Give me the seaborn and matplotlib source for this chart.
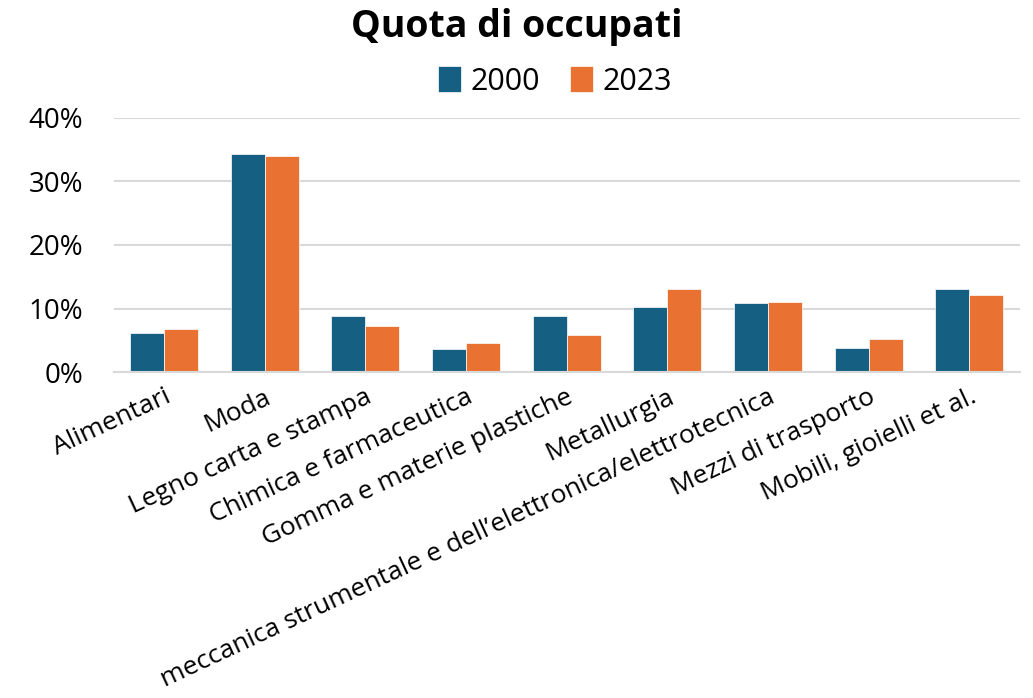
import numpy as np
import pandas as pd
import matplotlib.pyplot as plt
import seaborn as sns
from matplotlib.ticker import PercentFormatter

categories = [
    "Alimentari",
    "Moda",
    "Legno carta e stampa",
    "Chimica e farmaceutica",
    "Gomma e materie plastiche",
    "Metallurgia",
    "meccanica strumentale e dell\u2019elettronica/elettrotecnica",
    "Mezzi di trasporto",
    "Mobili, gioielli et al.",
]
share_2000 = [6.2, 34.4, 8.9, 3.7, 8.8, 10.2, 10.8, 3.8, 13.0]
share_2023 = [6.8, 34.0, 7.2, 4.6, 5.8, 13.0, 11.0, 5.2, 12.1]
years = ["2000", "2023"]
colors = ["#156082", "#E97132"]

df = pd.DataFrame({
    "settore": categories * 2,
    "anno": [years[0]] * len(categories) + [years[1]] * len(categories),
    "quota": share_2000 + share_2023,
})

sns.set_style("white")
plt.rcParams["font.family"] = ["Open Sans", "DejaVu Sans"]
plt.rcParams["text.color"] = "black"
plt.rcParams["xtick.color"] = "black"
plt.rcParams["ytick.color"] = "black"

fig = plt.figure(figsize=(10.33, 6.98), dpi=100)
ax = fig.add_axes([0.110, 0.467, 0.877, 0.364])

sns.barplot(data=df, x="settore", y="quota", hue="anno", palette=colors,
            saturation=1, width=0.675, edgecolor="white", linewidth=0.5,
            ax=ax, legend=True)

ax.set_ylim(0, 40)
ax.set_xlim(-0.5, len(categories) - 0.5)
ax.set_yticks([0, 10, 20, 30, 40])
ax.yaxis.set_major_formatter(PercentFormatter(decimals=0))
ax.grid(axis="y", color="#d9d9d9", linewidth=1.5)
ax.set_axisbelow(True)
for s in ["left", "right", "top"]:
    ax.spines[s].set_visible(False)
ax.spines["bottom"].set_color("#d9d9d9")
ax.spines["bottom"].set_linewidth(1.5)

ax.set_xticks(np.arange(-0.5, len(categories), 1.0), minor=True)
ax.tick_params(axis="x", which="minor", length=9, width=1.5, color="#d9d9d9")
ax.tick_params(axis="x", which="major", length=0, pad=9)
ax.tick_params(axis="y", length=0, labelsize=20, pad=22)
ax.set_xticks(range(len(categories)))
ax.set_xticklabels(categories, rotation=25, ha="right", rotation_mode="anchor",
                   fontsize=19)
ax.set_xlabel("")
ax.set_ylabel("")

ax.legend(loc="lower center", bbox_to_anchor=(0.487, 1.0), ncol=2, frameon=False,
          fontsize=22, handlelength=0.75, handleheight=0.9, handletextpad=0.3,
          columnspacing=1.0, borderpad=0.2)

fig.suptitle("Quota di occupati", fontsize=27, fontweight="bold", y=0.988)

fig.savefig("out.png", dpi=100)
